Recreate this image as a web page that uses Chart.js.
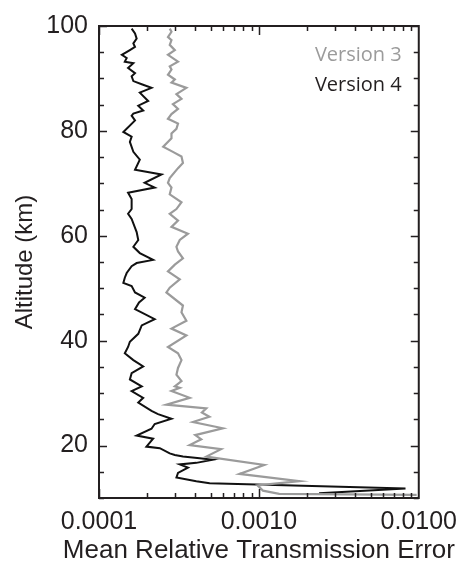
<!DOCTYPE html>
<html>
<head>
<meta charset="utf-8">
<script src="https://cdn.jsdelivr.net/npm/chart.js@4.4.1/dist/chart.umd.min.js"></script>
<style>
  html, body { margin: 0; padding: 0; background: #fff; }
  #wrap { width: 466px; height: 565px; position: relative; }
</style>
</head>
<body>
<div id="wrap"><canvas id="chart"></canvas></div>
<script>
// Version 4 (black) profile: altitude (km) and mean relative transmission error
const v4Altitude = [99.5, 98.6, 97.6, 96.7, 96.0, 95.4, 94.5, 93.9, 93.2, 92.9, 92.0, 91.0, 90.4, 89.5, 88.9, 88.2, 87.3, 85.7, 84.8, 83.9,
  83.3, 82.9, 82.0, 79.8, 78.9, 77.9, 76.0, 74.5, 72.6, 71.7, 70.1, 69.2, 68.2, 67.0, 65.1, 64.2, 63.2, 60.7, 59.2, 57.9,
  56.7, 55.4, 54.8, 54.2, 52.9, 52.0, 51.0, 50.4, 49.2, 48.2, 47.3, 46.0, 44.1, 42.9, 41.3, 39.8, 38.8, 37.6, 36.3, 35.1,
  33.8, 32.6, 31.3, 30.4, 29.1, 28.2, 26.6, 26.0, 25.1, 24.1, 23.2, 21.9, 21.3, 19.8, 19.5, 18.5, 18.2, 17.9, 17.6, 17.3,
  16.7, 16.4, 15.8, 14.8, 13.9, 13.2, 12.8, 11.8, 10.9];
const v4Error = [1.60e-4, 1.68e-4, 1.72e-4, 1.64e-4, 1.68e-4, 1.56e-4, 1.39e-4, 1.49e-4, 1.45e-4, 1.64e-4, 1.52e-4, 1.68e-4, 1.60e-4, 1.64e-4, 1.85e-4, 2.13e-4, 1.80e-4, 2.03e-4, 1.76e-4, 1.89e-4,
  1.64e-4, 1.60e-4, 1.68e-4, 1.42e-4, 1.60e-4, 1.56e-4, 1.64e-4, 1.80e-4, 1.68e-4, 2.46e-4, 1.93e-4, 2.23e-4, 1.52e-4, 1.60e-4, 1.60e-4, 1.52e-4, 1.60e-4, 1.72e-4, 1.76e-4, 1.64e-4,
  1.80e-4, 2.18e-4, 1.72e-4, 1.60e-4, 1.49e-4, 1.45e-4, 1.42e-4, 1.60e-4, 1.68e-4, 1.93e-4, 1.78e-4, 1.68e-4, 2.23e-4, 1.85e-4, 1.76e-4, 1.56e-4, 1.52e-4, 1.45e-4, 1.64e-4, 1.89e-4,
  1.60e-4, 1.56e-4, 1.85e-4, 1.60e-4, 1.89e-4, 1.76e-4, 2.13e-4, 2.34e-4, 2.84e-4, 2.23e-4, 2.13e-4, 1.72e-4, 2.18e-4, 1.98e-4, 2.40e-4, 2.77e-4, 2.98e-4, 3.35e-4, 4.26e-4, 5.15e-4,
  4.06e-4, 3.20e-4, 3.60e-4, 3.12e-4, 3.05e-4, 4.06e-4, 4.92e-4, 82.6e-4, 23.8e-4];

// Version 3 (grey) profile
const v3Altitude = [99.5, 98.9, 97.9, 97.3, 96.4, 95.4, 94.5, 93.2, 92.3, 91.7, 90.7, 89.8, 89.2, 88.2, 87.0, 86.1, 85.1, 84.2, 83.2, 82.3,
  81.4, 80.4, 79.5, 78.6, 77.0, 76.0, 75.1, 73.9, 72.9, 71.0, 70.1, 69.2, 67.9, 66.4, 65.1, 64.2, 62.9, 61.7, 60.4, 59.2,
  57.9, 57.0, 55.7, 54.5, 53.2, 51.7, 50.1, 49.2, 46.7, 45.4, 43.8, 42.3, 41.0, 38.8, 37.6, 36.3, 34.8, 33.5, 32.3, 31.3,
  31.0, 30.4, 29.1, 27.8, 27.1, 26.3, 25.5, 24.5, 23.3, 22.0, 21.2, 20.1, 19.3, 17.9, 16.3, 14.6, 13.2, 12.4, 11.4, 10.8, 10.6];
const v3Error = [2.77e-4, 2.84e-4, 2.70e-4, 2.84e-4, 2.77e-4, 2.98e-4, 2.70e-4, 3.12e-4, 2.77e-4, 2.84e-4, 2.70e-4, 2.98e-4, 2.84e-4, 3.52e-4, 3.05e-4, 3.28e-4, 2.90e-4, 3.12e-4, 2.84e-4, 2.70e-4,
  3.12e-4, 3.05e-4, 2.84e-4, 2.84e-4, 2.52e-4, 2.90e-4, 3.28e-4, 3.35e-4, 3.12e-4, 2.77e-4, 2.70e-4, 2.84e-4, 2.77e-4, 3.28e-4, 3.05e-4, 2.77e-4, 3.12e-4, 2.84e-4, 3.60e-4, 3.20e-4,
  3.05e-4, 3.12e-4, 3.35e-4, 2.98e-4, 2.70e-4, 3.20e-4, 2.77e-4, 2.64e-4, 3.35e-4, 3.28e-4, 3.52e-4, 2.84e-4, 3.52e-4, 2.70e-4, 3.12e-4, 3.28e-4, 3.12e-4, 3.05e-4, 3.28e-4, 2.98e-4,
  3.20e-4, 2.84e-4, 3.69e-4, 2.64e-4, 4.69e-4, 4.40e-4, 4.90e-4, 3.87e-4, 5.95e-4, 4.00e-4, 4.36e-4, 3.69e-4, 5.80e-4, 4.69e-4, 10.8e-4, 7.56e-4, 17.9e-4, 9.8e-4, 10.6e-4, 13.4e-4, 97e-4];

const seriesNames = ['Version 3', 'Version 4'];
const altitudeLabels = [20, 40, 60, 80, 100];
const altitudeMinorStep = 5;
const errorLabels = [0.0001, 0.001, 0.01];
const xTitle = 'Mean Relative Transmission Error';

const INK = '#231f20';
const GREY = '#9b9b9b';
const FONT = '"Liberation Sans", Arial, sans-serif';

const toPoints = (alt, err) => alt.map((a, i) => ({ x: err[i], y: a }));

// frame, inward ticks on all four sides, the x title and the text legend
const framePlugin = {
  id: 'frame',
  afterDatasetsDraw(chart) {
    const { ctx, chartArea: a, scales: { x, y } } = chart;
    ctx.save();
    ctx.strokeStyle = INK;
    ctx.lineWidth = 1.5;
    ctx.beginPath();
    for (let v = y.min; v <= y.max; v += altitudeMinorStep) {
      const py = Math.round(y.getPixelForValue(v)) + 0.5;
      const len = altitudeLabels.includes(v) ? 8 : 5;
      ctx.moveTo(a.left, py); ctx.lineTo(a.left + len, py);
      ctx.moveTo(a.right, py); ctx.lineTo(a.right - len, py);
    }
    for (let d = -4; d < -2; d++) {
      for (let m = 1; m <= 9; m++) {
        const v = m * Math.pow(10, d);
        const px = Math.round(x.getPixelForValue(v)) + 0.5;
        const len = m === 1 ? 9 : 5;
        ctx.moveTo(px, a.bottom); ctx.lineTo(px, a.bottom - len);
        ctx.moveTo(px, a.top); ctx.lineTo(px, a.top + len);
      }
    }
    ctx.stroke();
    ctx.lineWidth = 2;
    ctx.strokeRect(a.left, a.top, a.right - a.left, a.bottom - a.top);

    // x title drawn here so it is not squeezed to the plot width
    ctx.fillStyle = INK;
    ctx.font = '26px ' + FONT;
    ctx.textAlign = 'center';
    ctx.textBaseline = 'middle';
    ctx.fillText(xTitle, (a.left + a.right) / 2, 551);

    ctx.font = '20px "Open Sans"';
    ctx.textAlign = 'right';
    ctx.fillStyle = GREY;
    ctx.fillText(seriesNames[0], a.right - 17, 55);
    ctx.fillStyle = INK;
    ctx.fillText(seriesNames[1], a.right - 17, 85);
    ctx.restore();
  }
};

new Chart(document.getElementById('chart'), {
  type: 'scatter',
  data: {
    datasets: [
      {
        label: seriesNames[0],
        data: toPoints(v3Altitude, v3Error),
        showLine: true,
        borderColor: GREY,
        borderWidth: 2.2,
        pointRadius: 0,
        tension: 0
      },
      {
        label: seriesNames[1],
        data: toPoints(v4Altitude, v4Error),
        showLine: true,
        borderColor: '#111',
        borderWidth: 2,
        pointRadius: 0,
        tension: 0
      }
    ]
  },
  options: {
    responsive: true,
    maintainAspectRatio: false,
    animation: false,
    layout: { padding: { top: 19, right: 46, bottom: 0, left: 0 } },
    plugins: {
      legend: { display: false },
      tooltip: { enabled: false }
    },
    scales: {
      x: {
        type: 'logarithmic',
        min: 0.0001,
        max: 0.01,
        afterBuildTicks: s => { s.ticks = errorLabels.map(v => ({ value: v })); },
        afterFit: s => { s.height = 67; },
        grid: { display: false, drawTicks: false },
        border: { display: false },
        ticks: {
          autoSkip: false,
          maxRotation: 0,
          padding: 9,
          color: INK,
          font: { family: FONT, size: 25 },
          callback: v => Number(v).toFixed(4)
        }
      },
      y: {
        type: 'linear',
        min: 10,
        max: 100,
        afterBuildTicks: s => { s.ticks = altitudeLabels.map(v => ({ value: v })); },
        afterFit: s => { s.width = 99; },
        grid: { display: false, drawTicks: false },
        border: { display: false },
        ticks: {
          padding: 11,
          color: INK,
          font: { family: FONT, size: 25 }
        },
        title: {
          display: true,
          text: 'Altitude (km)',
          color: INK,
          font: { family: FONT, size: 24 },
          padding: { top: 11, bottom: 0 }
        }
      }
    }
  },
  plugins: [framePlugin]
});
</script>
</body>
</html>
